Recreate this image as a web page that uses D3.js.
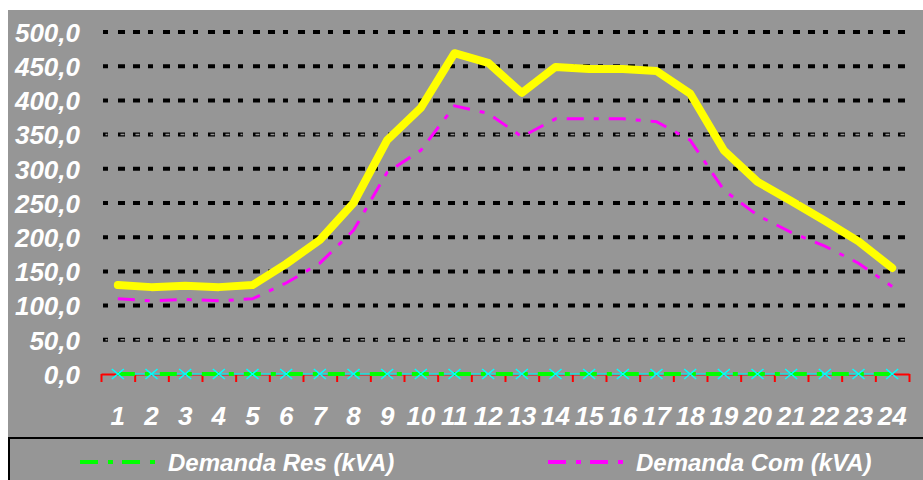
<!DOCTYPE html>
<html>
<head>
<meta charset="utf-8">
<script src="https://cdn.jsdelivr.net/npm/d3@7"></script>
<style>
  body { margin: 0; background: #fff; }
  svg text { font-family: "Liberation Sans", Arial, sans-serif; font-weight: bold; font-style: italic; fill: #fff; }
</style>
</head>
<body>
<svg id="chart" width="923" height="480"></svg>
<script>
// hours 1..24
var hours = d3.range(1, 25);
var total = [130, 127, 129, 127, 130, 161, 196, 250, 342, 389, 469, 455, 411, 449, 446, 446, 443, 410, 327, 281, 253, 224, 194, 155];
var demandaCom = [110, 107, 109, 107, 110, 133, 162, 210, 295, 327, 392, 381, 347, 373, 373, 373, 369, 342, 269, 232, 207, 187, 162, 128];
var demandaRes = [0, 0, 0, 0, 0, 0, 0, 0, 0, 0, 0, 0, 0, 0, 0, 0, 0, 0, 0, 0, 0, 0, 0, 0];
var outros = [0, 0, 0, 0, 0, 0, 0, 0, 0, 0, 0, 0, 0, 0, 0, 0, 0, 0, 0, 0, 0, 0, 0, 0];
var yTicks = [0, 50, 100, 150, 200, 250, 300, 350, 400, 450, 500];
var hollowTicks = [50, 350];
var legendNames = ["Demanda Res (kVA)", "Demanda Com (kVA)"];

var svg = d3.select("#chart");
var bg = "#969696";

svg.append("rect").attr("x", 8).attr("y", 10).attr("width", 915).attr("height", 470).attr("fill", bg);

var x = d3.scaleBand().domain(hours).range([101, 909]).padding(0);
var xEdge = d3.scaleLinear().domain([0, 24]).range([101, 909]);
var y = d3.scaleLinear().domain([0, 500]).range([374, 32]);
var cx = function (d, i) { return x(hours[i]) + x.bandwidth() / 2; };

// gridlines
var grid = svg.append("g");
yTicks.filter(function (t) { return t > 0; }).forEach(function (t) {
    grid.append("line")
        .attr("x1", 103).attr("x2", 905)
        .attr("y1", y(t)).attr("y2", y(t))
        .attr("stroke", "#000").attr("stroke-width", 4)
        .attr("stroke-dasharray", "5,10,7,8,7,8");
    if (hollowTicks.indexOf(t) >= 0) {
        grid.append("line")
            .attr("x1", 104).attr("x2", 905)
            .attr("y1", y(t)).attr("y2", y(t))
            .attr("stroke", bg).attr("stroke-width", 1.5)
            .attr("stroke-dasharray", "2,13,4,11,4,11")
            .attr("transform", "translate(1.5,0)");
    }
});

// y axis labels
var yAxis = d3.axisLeft(y).tickValues(yTicks).tickSize(0).tickPadding(0)
    .tickFormat(function (d) { return d3.format(".1f")(d).replace(".", ","); });
var gy = svg.append("g").attr("transform", "translate(80,0)").call(yAxis);
gy.select(".domain").remove();
gy.selectAll("text").attr("font-size", 26).attr("dy", "0.36em")
    .style("font-family", "'Liberation Sans', Arial, sans-serif");

// red category axis
var edgeAxis = d3.axisBottom(xEdge).tickValues(d3.range(0, 25)).tickSize(8).tickSizeOuter(0).tickFormat("");
var gxe = svg.append("g").attr("transform", "translate(0," + y(0) + ")").call(edgeAxis);
gxe.select(".domain").attr("stroke", "#ff0000").attr("stroke-width", 2);
gxe.selectAll(".tick line").attr("stroke", "#ff0000").attr("stroke-width", 2);

var xAxis = d3.axisBottom(x).tickSize(0).tickPadding(0);
var gx = svg.append("g").attr("transform", "translate(0,425)").call(xAxis);
gx.select(".domain").remove();
gx.selectAll("text").attr("font-size", 26).attr("dy", 0).attr("y", 0)
    .style("font-family", "'Liberation Sans', Arial, sans-serif");

var line = d3.line().x(cx).y(function (d) { return y(d); });

// cyan series with x markers
svg.append("path").datum(outros).attr("d", line)
    .attr("fill", "none").attr("stroke", "#00ffff").attr("stroke-width", 1.5);

// demanda res (green)
svg.append("path").datum(demandaRes).attr("d", line)
    .attr("fill", "none").attr("stroke", "#00ff00").attr("stroke-width", 4)
    .attr("stroke-dasharray", "17,10,5,10");

svg.append("g").selectAll("path.mk").data(outros).enter().append("path")
    .attr("class", "mk")
    .attr("d", function (d, i) {
        var px = cx(d, i), py = y(d);
        return "M" + (px - 6) + "," + (py - 5) + "L" + (px + 6) + "," + (py + 5) +
               "M" + (px - 6) + "," + (py + 5) + "L" + (px + 6) + "," + (py - 5);
    })
    .attr("stroke", "#00ffff").attr("stroke-width", 1.5).attr("fill", "none");

// demanda com (magenta)
svg.append("path").datum(demandaCom).attr("d", line)
    .attr("fill", "none").attr("stroke", "#ff00ff").attr("stroke-width", 3)
    .attr("stroke-dasharray", "17,10,5,10");

// total (yellow)
svg.append("path").datum(total).attr("d", line)
    .attr("fill", "none").attr("stroke", "#ffff00").attr("stroke-width", 8)
    .attr("stroke-linejoin", "round").attr("stroke-linecap", "round");

// legend box
svg.append("rect").attr("x", 9).attr("y", 438).attr("width", 930).attr("height", 60)
    .attr("fill", bg).attr("stroke", "#000").attr("stroke-width", 2);

var legendColors = ["#00ff00", "#ff00ff"];
var legendX = [80, 548];
legendNames.forEach(function (name, i) {
    var g = svg.append("g").attr("transform", "translate(" + legendX[i] + ",462)");
    g.append("line").attr("x1", 0).attr("x2", 77).attr("y1", 0).attr("y2", 0)
        .attr("stroke", legendColors[i]).attr("stroke-width", 4)
        .attr("stroke-dasharray", "18,10,5,9");
    g.append("text").attr("x", 88).attr("y", 9).attr("font-size", 24).text(name);
});
</script>
</body>
</html>
